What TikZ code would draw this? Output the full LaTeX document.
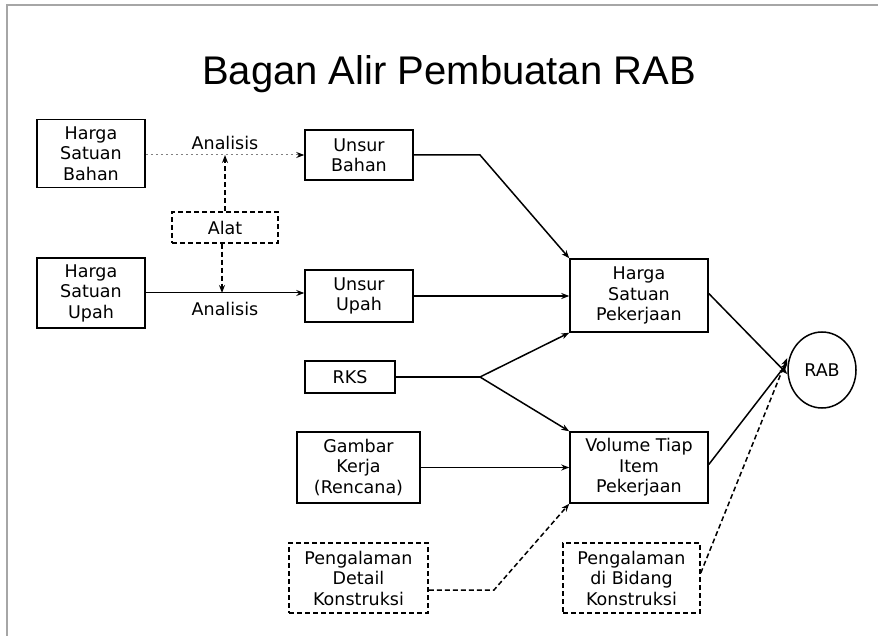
\documentclass[tikz,border=0pt]{standalone}
\usepackage{fontspec}
\setmainfont{DejaVu Sans}
\newfontfamily\titlefont{Liberation Sans}
\usetikzlibrary{arrows.meta,shapes.geometric}
\begin{document}
\begin{tikzpicture}[x=1pt,y=-1pt,
  txt/.style={font=\fontsize{17.5}{20.5}\selectfont},
  bx/.style={draw,line width=1.5pt,align=center,inner sep=0pt,txt},
  dbx/.style={bx,dash pattern=on 5pt off 3pt},
  con/.style={line width=1.5pt,-{Stealth[length=8pt,width=6pt]}},
  thin con/.style={line width=1pt,-{Stealth[length=8pt,width=6pt]}},
  dcon/.style={line width=1.5pt,dash pattern=on 5pt off 3pt,-{Stealth[length=8pt,width=6pt]}},
  dotcon/.style={line width=1pt,gray,dash pattern=on 2pt off 3pt,-{Stealth[length=8pt,width=6pt,black]}},
  lbl/.style={inner sep=0pt,txt}]
\useasboundingbox (0,0) rectangle (878,636);
\draw[gray!70,line width=2pt] (7,636) -- (7,5) -- (878,5);

\node (title) at (449,74) {\titlefont\fontsize{40}{48}\selectfont Bagan Alir Pembuatan RAB};

\node[bx,minimum width=108pt,minimum height=68pt] (hsb) at (91,153.5) {Harga\\Satuan\\Bahan};
\node[bx,minimum width=108pt,minimum height=50pt] (ub) at (359,155) {Unsur\\Bahan};
\node[dbx,minimum width=106pt,minimum height=31pt] (alat) at (225,227.5) {Alat};
\node[bx,minimum width=108pt,minimum height=70pt] (hsu) at (91,293) {Harga\\Satuan\\Upah};
\node[bx,minimum width=108pt,minimum height=52pt] (uu) at (359,296) {Unsur\\Upah};
\node[bx,minimum width=138pt,minimum height=73pt] (hsp) at (639,295.5) {Harga\\Satuan\\Pekerjaan};
\node[bx,minimum width=90pt,minimum height=32pt] (rks) at (350,377) {RKS};
\node[bx,minimum width=123pt,minimum height=71pt] (gk) at (358.5,467.5) {Gambar\\Kerja\\(Rencana)};
\node[bx,minimum width=138pt,minimum height=71pt] (vol) at (639,467.5) {Volume Tiap\\Item\\Pekerjaan};
\node[dbx,minimum width=139pt,minimum height=70pt] (pdk) at (358.5,578) {Pengalaman\\Detail\\Konstruksi};
\node[dbx,minimum width=137pt,minimum height=70pt] (pdb) at (631.5,578) {Pengalaman\\di Bidang\\Konstruksi};
\node[draw,ellipse,line width=1.5pt,minimum width=68pt,minimum height=76pt,inner sep=0pt,txt] (rab) at (822,370) {RAB};

\node[lbl] (an1) at (225,143) {Analisis};
\node[lbl] (an2) at (225,309) {Analisis};

\coordinate (a1) at (225,155);
\coordinate (a2) at (222,293);
\coordinate (b1) at (480,155);
\coordinate (s) at (480,377);
\coordinate (b2) at (494,590);

\draw[dotcon] (hsb.east |- a1) -- (ub.west |- a1);
\draw[dcon] (alat.north -| a1) -- (a1);
\draw[dcon] (alat.south -| a2) -- (a2);
\draw[thin con] (hsu.east |- a2) -- (uu.west |- a2);
\draw[con] (ub.east) -- (b1) -- (hsp.north west);
\draw[con] (uu.east) -- (hsp.west |- uu.east);
\draw[line width=1.5pt] (rks.east) -- (s);
\draw[con] (s) -- (hsp.south west);
\draw[con] (s) -- (vol.north west);
\draw[con] (gk.east) -- (vol.west |- gk.east);
\draw[dcon] (pdk.east |- b2) -- (b2) -- (vol.south west);
\draw[con] ([yshift=2pt]hsp.east) -- ([yshift=-4pt]rab.west);
\draw[con] ([yshift=3pt]vol.east) -- ([yshift=7pt]rab.west);
\draw[dcon] ([yshift=5pt]pdb.east) -- ([yshift=12pt]rab.west);
\end{tikzpicture}
\end{document}
